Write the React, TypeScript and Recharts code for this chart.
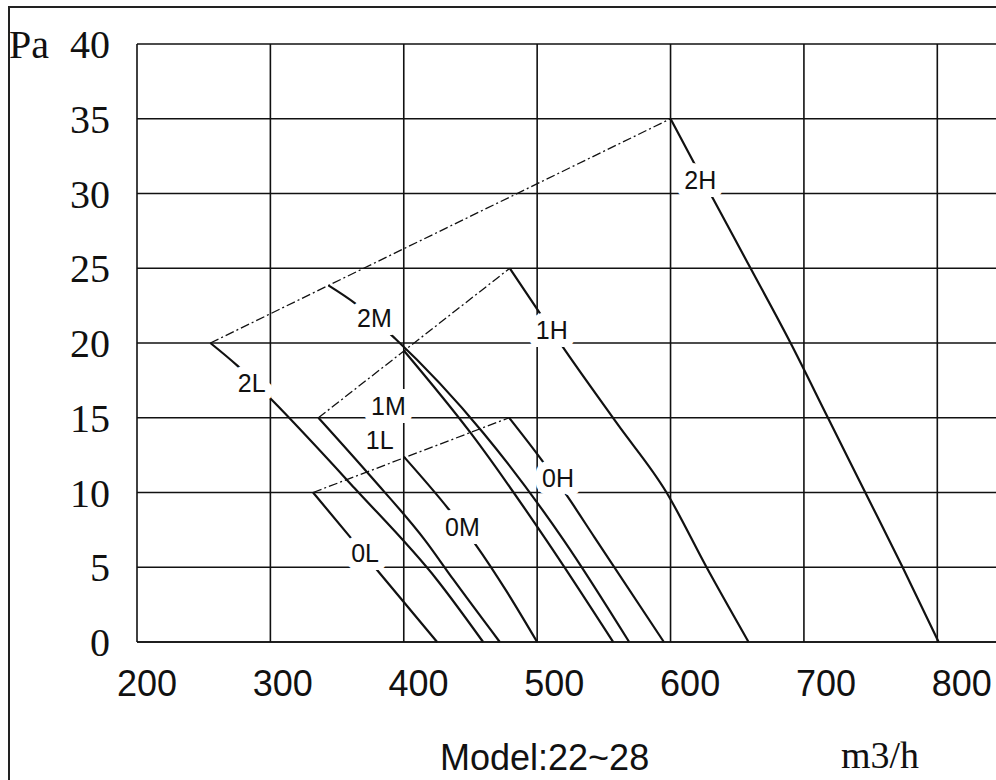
import React from 'react';
import {
  ComposedChart,
  Line,
  Scatter,
  XAxis,
  YAxis,
  CartesianGrid,
} from 'recharts';

// axis ticks
const xTicks = [200, 300, 400, 500, 600, 700, 800];
const yTicks = [0, 5, 10, 15, 20, 25, 30, 35, 40];

// fan curves: [airflow m3/h, pressure Pa]
const c0L: [number, number][] = [[332, 10], [360, 7], [382, 4.6], [425, 0]];
const c0M: [number, number][] = [[400, 12.4], [433.5, 8.9], [454, 6.5], [477, 3.4], [500, 0]];
const c0H: [number, number][] = [[479, 15], [504, 12.1], [523, 9.7], [543, 7], [595, 0]];
const c1L: [number, number][] = [[336, 15], [376, 11], [416, 6.8], [437, 4.2], [472, 0]];
const c1M: [number, number][] = [[400, 19.5], [450, 14], [507, 6.8], [557, 0]];
const c1H: [number, number][] = [[479.5, 25], [502, 22], [521, 19.5], [560, 14.6], [597, 10], [627, 5], [658.5, 0]];
const c2L: [number, number][] = [[255, 20], [275, 18.5], [301, 16.2], [363, 10.3], [425, 4.15], [459.5, 0]];
const c2M: [number, number][] = [[343.5, 23.85], [363.5, 22.65], [393.5, 20.3], [459.5, 14], [520, 6.8], [569, 0]];
const c2H: [number, number][] = [[600, 35], [631, 29.8], [660, 25], [690, 20], [718, 15], [746, 10], [774, 5], [801, 0]];

// dash-dot lines joining the start of each speed group
const d0: [number, number][] = [[332, 10], [479, 15]];
const d1: [number, number][] = [[336, 15], [479.5, 25]];
const d2: [number, number][] = [[255, 20], [600, 35]];

// curve labels
const labelNames = ['0L', '0M', '0H', '1L', '1M', '1H', '2L', '2M', '2H'];
const labelFlow = [371, 444, 515.7, 382, 388.5, 511, 286, 378, 622.3];
const labelPa = [5.93, 7.7, 10.95, 13.5, 15.8, 20.9, 17.3, 21.65, 30.9];

const toXY = (pts: [number, number][]) => pts.map(([x, y]) => ({ x, y }));

const curves = [c0L, c0M, c0H, c1L, c1M, c1H, c2L, c2M, c2H];
const dashes = [d0, d1, d2];
const labelData = labelNames.map((name, i) => ({ name, x: labelFlow[i], y: labelPa[i] }));

const INK = '#111';
const SERIF = "'Liberation Serif', 'Times New Roman', serif";
const SANS = "'Liberation Sans', Arial, sans-serif";
const NARROW = "'Liberation Sans Narrow', 'Liberation Sans', Arial, sans-serif";

const XTick = (props: any) => {
  const { x, y, payload, index } = props;
  return (
    <text x={x + 10 + index * 2.4} y={y} dy="0.71em" textAnchor="middle"
      fontFamily={SANS} fontSize={36} fill={INK}>
      {payload.value}
    </text>
  );
};

const CurveLabel = (props: any) => {
  const { cx, cy, payload } = props;
  return (
    <text x={cx} y={cy} dy="0.36em" textAnchor="middle" fontFamily={NARROW}
      fontSize={25} fill={INK} stroke="#fff" strokeWidth={16}
      strokeLinejoin="round" paintOrder="stroke">
      {payload.name}
    </text>
  );
};

export default function App() {
  return (
    <div style={{ position: 'fixed', left: 0, top: 0, width: 996, height: 780, overflow: 'hidden', background: '#fff' }}>
      <div style={{ position: 'absolute', left: 8, top: 6, width: 2000, height: 2000, borderLeft: '2px solid #222', borderTop: '2px solid #222' }} />
      <div style={{ position: 'absolute', left: 0, top: 0 }}>
        <ComposedChart width={1100} height={780} margin={{ top: 44, right: 96, left: 0, bottom: 0 }}>
          <CartesianGrid stroke={INK} strokeWidth={1.6} />
          <XAxis
            type="number"
            dataKey="x"
            domain={[200, 850]}
            ticks={xTicks}
            allowDataOverflow
            height={138}
            tickSize={0}
            tickMargin={28}
            axisLine={{ stroke: INK, strokeWidth: 1.6 }}
            tickLine={false}
            tick={<XTick />}
            label={{
              content: () => (
                <g>
                  <text x={440} y={770} fontFamily={SANS} fontSize={36} fill={INK}>Model:22~28</text>
                  <text x={841} y={768} fontFamily={SERIF} fontSize={38} fill={INK}>m3/h</text>
                </g>
              ),
            }}
          />
          <YAxis
            type="number"
            dataKey="y"
            domain={[0, 40]}
            ticks={yTicks}
            width={137}
            tickSize={0}
            tickMargin={27}
            axisLine={false}
            tickLine={false}
            tick={{ fontFamily: SERIF, fontSize: 40, fill: INK }}
            label={{
              content: () => (
                <text x={9} y={44} dy="0.36em" fontFamily={SERIF} fontSize={40} fill={INK}>Pa</text>
              ),
            }}
          />
          {dashes.map((d, i) => (
            <Line key={`d${i}`} data={toXY(d)} dataKey="y" type="linear" stroke={INK}
              strokeWidth={1.3} strokeDasharray="9 3 2 3" dot={false} activeDot={false}
              isAnimationActive={false} />
          ))}
          {curves.map((c, i) => (
            <Line key={`c${i}`} data={toXY(c)} dataKey="y" type="monotone" stroke={INK}
              strokeWidth={2.2} dot={false} activeDot={false} isAnimationActive={false} />
          ))}
          <Scatter data={labelData} dataKey="y" shape={<CurveLabel />} isAnimationActive={false} />
        </ComposedChart>
      </div>
    </div>
  );
}
